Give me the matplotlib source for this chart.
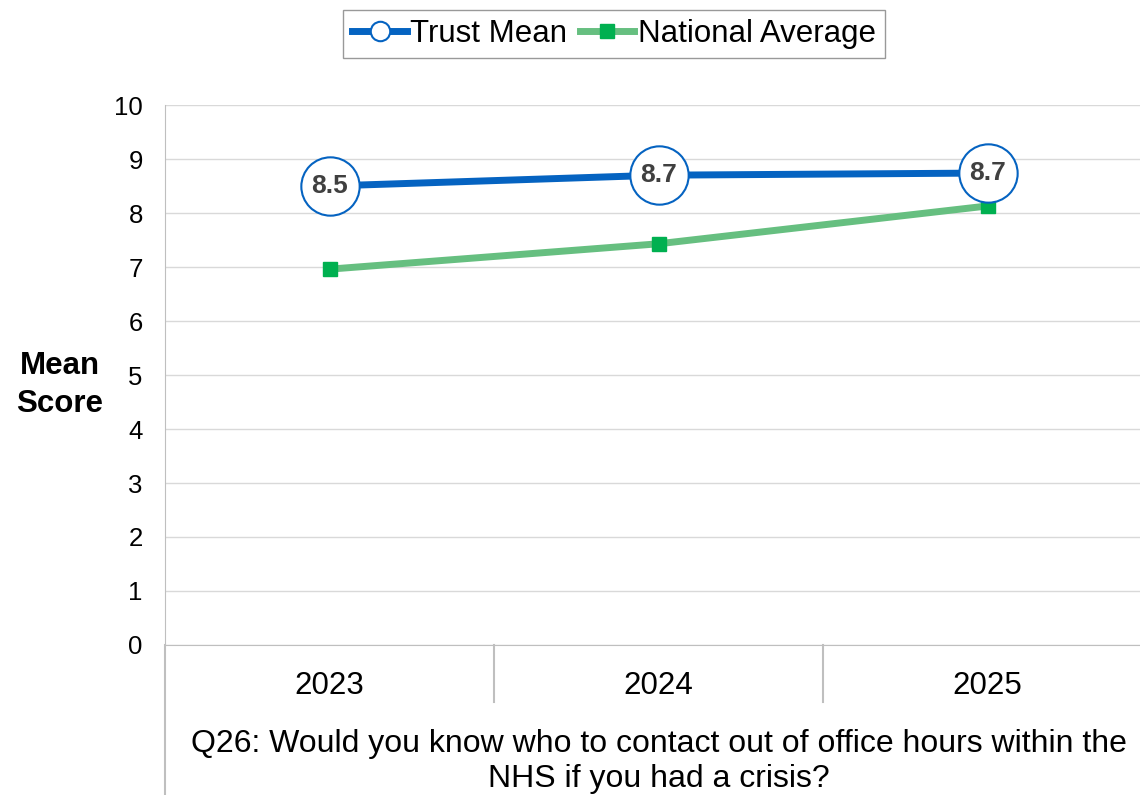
import matplotlib.pyplot as plt
from matplotlib.lines import Line2D

plt.rcParams['font.family'] = ['Liberation Sans', 'DejaVu Sans']

years = ['2023', '2024', '2025']
trust_mean = [8.5, 8.70, 8.74]
national_avg = [6.96, 7.43, 8.13]
trust_labels = ['8.5', '8.7', '8.7']
question = 'Q26: Would you know who to contact out of office hours within the\nNHS if you had a crisis?'

blue = '#0563C1'
green_line = '#66BF80'
green_mark = '#00B050'
grid_col = '#D9D9D9'

fig = plt.figure(figsize=(11.4, 7.95), dpi=100)
ax = fig.add_axes([165 / 1140, 1 - 645 / 795, 987 / 1140, 540 / 795])

x = range(len(years))
ax.plot(x, national_avg, color=green_line, lw=5, marker='s', ms=10,
        mfc=green_mark, mec=green_mark, label='National Average', zorder=3)
ax.plot(x, trust_mean, color=blue, lw=5, marker='o', ms=42,
        mfc='white', mec=blue, mew=1.5, label='Trust Mean', zorder=4)
for i, v in enumerate(trust_mean):
    ax.text(i, v, trust_labels[i], ha='center', va='center', fontsize=19,
            fontweight='bold', color='#404040', zorder=5)

ax.set_xlim(-0.5, 2.5)
ax.set_ylim(0, 10)
ax.set_yticks(range(0, 11))
ax.tick_params(axis='y', length=0, labelsize=18.5, pad=16)
ax.set_xticks([])
ax.grid(axis='y', color=grid_col, lw=1)
ax.set_axisbelow(True)
for s in ['top', 'right']:
    ax.spines[s].set_visible(False)
ax.spines['left'].set_color('#BFBFBF')
ax.spines['bottom'].set_color('#BFBFBF')

# category labels and separators below the axis
for i, yr in enumerate(years):
    ax.text(i, -0.76, yr, ha='center', va='center', fontsize=22.5,
            clip_on=False)
ax.add_line(Line2D([-0.5, -0.5], [0, -2.75], color='#BFBFBF', lw=1.5, clip_on=False))
for b in [0.5, 1.5]:
    ax.add_line(Line2D([b, b], [0, -1.05], color='#BFBFBF', lw=1.5, clip_on=False))
ax.text(1, -2.16, question, ha='center', va='center', fontsize=23,
        linespacing=1.2, clip_on=False)

fig.text(60 / 1140, 1 - 385 / 795, 'Mean\nScore', ha='center', va='center',
         fontsize=22.5, fontweight='bold', linespacing=1.35)

handles = [Line2D([], [], color=blue, lw=5, marker='o', ms=14, mfc='white',
                  mec=blue, mew=1.5),
           Line2D([], [], color=green_line, lw=5, marker='s', ms=10,
                  mfc=green_mark, mec=green_mark)]
fig.legend(handles, ['Trust Mean', 'National Average'], loc='center',
           bbox_to_anchor=(614 / 1140, 1 - 34 / 795), ncol=2, fontsize=22.5,
           frameon=True, fancybox=False, edgecolor='#808080',
           handlelength=1.75, handletextpad=0.1, columnspacing=0.4,
           borderpad=0.3, borderaxespad=0)

fig.savefig('out.png', dpi=100)
